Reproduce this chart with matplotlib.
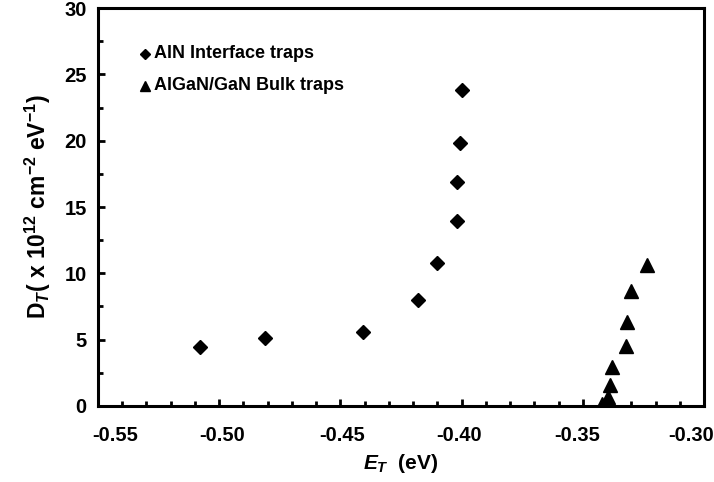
import matplotlib
matplotlib.use("Agg")
import matplotlib.pyplot as plt
from matplotlib.ticker import MultipleLocator, NullFormatter
from matplotlib.transforms import ScaledTranslation, blended_transform_factory

plt.rcParams['font.family'] = ['Liberation Sans', 'DejaVu Sans']
plt.rcParams['font.weight'] = 'bold'
plt.rcParams['axes.labelweight'] = 'bold'
plt.rcParams['mathtext.fontset'] = 'custom'
plt.rcParams['mathtext.rm'] = 'Liberation Sans:bold'
plt.rcParams['mathtext.it'] = 'Liberation Sans:bold:italic'
plt.rcParams['mathtext.bf'] = 'Liberation Sans:bold'

# AlN interface traps (diamonds)
aln_et = [-0.508, -0.481, -0.4405, -0.418, -0.410, -0.402, -0.402, -0.4007, -0.400]
aln_dt = [4.45, 5.1, 5.6, 8.0, 10.8, 13.95, 16.85, 19.85, 23.8]

# AlGaN/GaN bulk traps (triangles)
bulk_et = [-0.3236, -0.3303, -0.3319, -0.332, -0.3378, -0.3388, -0.3397, -0.3422]
bulk_dt = [10.65, 8.7, 6.35, 4.55, 2.95, 1.55, 0.7, 0.15]

x_ticks = [-0.55, -0.50, -0.45, -0.40, -0.35, -0.30]
x_tick_labels = ['-0.55', '-0.50', '-0.45', '-0.40', '-0.35', '-0.30']
legend_labels = ['AlN Interface traps', 'AlGaN/GaN Bulk traps']

fig = plt.figure(figsize=(7.14, 4.82), dpi=100)
ax = fig.add_axes([0.137, 0.158, 0.849, 0.825])

ax.plot(aln_et, aln_dt, linestyle='none', marker='D', ms=6.8, color='black')
ax.plot(bulk_et, bulk_dt, linestyle='none', marker='^', ms=10.5, color='black')

ax.set_xlim(-0.55, -0.30)
ax.set_ylim(0, 30)
ax.set_xticks(x_ticks)
ax.xaxis.set_minor_locator(MultipleLocator(0.01))
ax.xaxis.set_major_formatter(NullFormatter())
ax.yaxis.set_major_locator(MultipleLocator(5))
ax.yaxis.set_minor_locator(MultipleLocator(2.5))
ax.tick_params(which='both', direction='in', width=2, labelsize=14.5,
               top=False, right=False)
ax.tick_params(which='major', length=5)
ax.tick_params(which='minor', length=3.5)
ax.tick_params(axis='y', pad=8)
for s in ax.spines.values():
    s.set_linewidth(2.2)

# x tick labels: in the scan they sit a little inward of their ticks
shifts = [17, 3, 2, -2, -6, -13]
base = blended_transform_factory(ax.transData, ax.transAxes)
for xv, txt, dx in zip(x_ticks, x_tick_labels, shifts):
    tr = base + ScaledTranslation(dx / 100, -0.20, fig.dpi_scale_trans)
    ax.text(xv, 0, txt, transform=tr, ha='center', va='top', fontsize=14.5)

ax.set_xlabel(r'$E_T$  (eV)', fontsize=15, labelpad=30)
ax.set_ylabel(r'D$_T$( x 10$^{12}$ cm$^{-2}$ eV$^{-1}$)', fontsize=16.5, labelpad=8)

# legend drawn as text with marker symbols
ax.plot([0.078], [0.885], transform=ax.transAxes, marker='D', ms=5.5,
        color='black', linestyle='none', clip_on=False)
ax.text(0.093, 0.885, legend_labels[0], transform=ax.transAxes, fontsize=13,
        va='center', ha='left')
ax.plot([0.078], [0.805], transform=ax.transAxes, marker='^', ms=7.5,
        color='black', linestyle='none', clip_on=False)
ax.text(0.093, 0.805, legend_labels[1], transform=ax.transAxes, fontsize=13,
        va='center', ha='left')

fig.savefig('out.png', dpi=100)
